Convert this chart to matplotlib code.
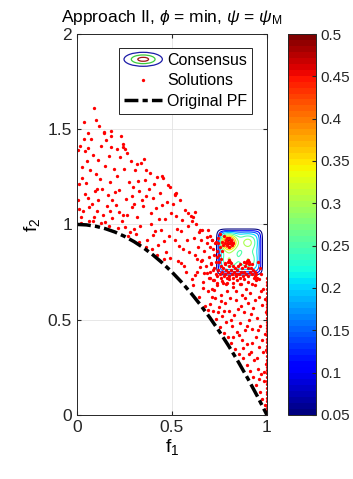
import numpy as np
import matplotlib
matplotlib.use('Agg')
import matplotlib.pyplot as plt
from matplotlib.legend_handler import HandlerBase
from matplotlib.patches import Ellipse, Patch
from matplotlib.lines import Line2D

plt.rcParams['font.family'] = ['Liberation Sans', 'DejaVu Sans']
plt.rcParams['mathtext.fontset'] = 'custom'
plt.rcParams['mathtext.rm'] = 'Liberation Sans'
plt.rcParams['mathtext.it'] = 'Liberation Sans:italic'
plt.rcParams['font.size'] = 10

# original Pareto front
pf_f1 = [0.0, 0.05, 0.1, 0.15, 0.2, 0.25, 0.3, 0.35, 0.4, 0.45, 0.5,
         0.55, 0.6, 0.65, 0.7, 0.75, 0.8, 0.85, 0.9, 0.95, 1.0]
pf_f2 = [1.0, 0.9975, 0.99, 0.9775, 0.96, 0.9375, 0.91, 0.8775, 0.84, 0.7975, 0.75,
         0.6975, 0.64, 0.5775, 0.51, 0.4375, 0.36, 0.2775, 0.19, 0.0975, 0.0]

# solutions spread over the objective space (f1, f2)
upper_pts = [
    (0.091, 1.61), (0.1, 1.55), (0.038, 1.54), (0.06, 1.48), (0.144, 1.48), (0.179, 1.49),
    (0.177, 1.465), (0.016, 1.41), (0.244, 1.42), (0.253, 1.395), (0.314, 1.316), (0.446, 1.255),
    (0.516, 1.155), (0.52, 1.165),
    (0.013, 1.083), (0.027, 1.246), (0.008, 1.392), (0.041, 1.158), (0.019, 1.037), (0.052, 1.331),
    (0.036, 1.447), (0.066, 1.092), (0.048, 1.219), (0.071, 1.284), (0.083, 1.018), (0.057, 1.403),
    (0.094, 1.176), (0.087, 1.362), (0.029, 1.301), (0.011, 1.212), (0.064, 1.017), (0.076, 1.448),
    (0.043, 1.387), (0.098, 1.263), (0.112, 1.129), (0.127, 1.412), (0.109, 1.336), (0.138, 1.047),
    (0.121, 1.241), (0.146, 1.305), (0.133, 1.188), (0.157, 1.097), (0.168, 1.357), (0.151, 1.441),
    (0.173, 1.224), (0.186, 1.032), (0.162, 1.152), (0.194, 1.291), (0.118, 1.518), (0.181, 1.407),
    (0.142, 1.486), (0.107, 1.073), (0.199, 1.171), (0.176, 1.068), (0.213, 1.256), (0.204, 1.104),
    (0.228, 1.352), (0.236, 1.017), (0.219, 1.183), (0.247, 1.289), (0.258, 1.136), (0.241, 1.408),
    (0.266, 1.049), (0.273, 1.224), (0.284, 1.331), (0.291, 1.092), (0.262, 1.377), (0.277, 0.962),
    (0.233, 1.464), (0.296, 1.198), (0.252, 0.989), (0.288, 1.147), (0.209, 1.398), (0.224, 1.063),
    (0.307, 1.287), (0.318, 1.041), (0.326, 1.173), (0.339, 1.322), (0.312, 0.952), (0.347, 1.096),
    (0.358, 1.231), (0.333, 0.993), (0.366, 1.149), (0.371, 0.918), (0.384, 1.268), (0.392, 1.058),
    (0.377, 1.187), (0.353, 1.341), (0.398, 0.944), (0.321, 1.226), (0.342, 1.127), (0.389, 1.003),
    (0.364, 1.287), (0.303, 1.109), (0.406, 1.212), (0.417, 1.087), (0.428, 0.891), (0.436, 1.164),
    (0.443, 0.972), (0.452, 1.246), (0.461, 1.031), (0.474, 1.118), (0.469, 0.853), (0.483, 0.938),
    (0.491, 1.197), (0.497, 1.062), (0.412, 0.963), (0.424, 1.251), (0.447, 1.103), (0.458, 0.912),
    (0.478, 1.208), (0.433, 1.029), (0.488, 0.826), (0.402, 1.139), (0.508, 1.109), (0.514, 0.918),
    (0.523, 1.043), (0.532, 0.806), (0.541, 1.127), (0.549, 0.967), (0.558, 0.872), (0.567, 1.076),
    (0.574, 0.748), (0.583, 0.991), (0.591, 0.853), (0.598, 1.043), (0.517, 1.158), (0.536, 0.884),
    (0.553, 1.021), (0.562, 0.781), (0.578, 0.917), (0.587, 1.059), (0.527, 0.978), (0.546, 0.795),
    (0.004, 1.128), (0.022, 1.009), (0.034, 1.071), (0.059, 1.138), (0.079, 1.109), (0.091, 1.041),
    (0.103, 1.188), (0.124, 1.006), (0.149, 1.014), (0.171, 0.992), (0.187, 1.128), (0.216, 0.981),
    (0.243, 1.052), (0.269, 0.941), (0.299, 0.978), (0.329, 0.907), (0.362, 0.883), (0.394, 0.871),
    (0.421, 0.839), (0.456, 0.818),
]
mid_pts = [
    (0.605, 1.02), (0.61, 0.68), (0.612, 1.041), (0.608, 0.713), (0.615, 0.93), (0.62, 0.84),
    (0.621, 1.067), (0.623, 0.735), (0.627, 1.00), (0.63, 0.75), (0.633, 0.82), (0.635, 0.88),
    (0.641, 0.96), (0.645, 0.62), (0.647, 0.971), (0.648, 0.778), (0.652, 0.81), (0.655, 0.92),
    (0.659, 0.97), (0.661, 0.812), (0.664, 0.70), (0.667, 0.743), (0.665, 0.665), (0.67, 0.86),
    (0.675, 0.57), (0.68, 0.78), (0.683, 0.936), (0.684, 0.744), (0.686, 0.903), (0.69, 0.65),
    (0.69, 0.55), (0.692, 0.97), (0.693, 0.72), (0.695, 0.83), (0.70, 0.88), (0.701, 0.721),
    (0.70, 0.94), (0.704, 0.796), (0.703, 0.752), (0.707, 0.79), (0.709, 0.919), (0.709, 0.62),
    (0.712, 0.92), (0.715, 0.87), (0.716, 0.71), (0.717, 0.761), (0.72, 0.84), (0.722, 0.77),
    (0.724, 0.71), (0.725, 0.90), (0.73, 0.80), (0.731, 0.74), (0.732, 0.91), (0.74, 0.69),
]
right_pts = [
    (0.703, 0.583), (0.716, 0.547), (0.709, 0.662), (0.727, 0.611), (0.734, 0.502), (0.738, 0.684),
    (0.746, 0.568), (0.751, 0.463), (0.757, 0.627), (0.763, 0.521), (0.769, 0.694), (0.773, 0.432),
    (0.781, 0.588), (0.786, 0.487), (0.789, 0.651), (0.796, 0.411), (0.801, 0.543), (0.807, 0.616),
    (0.812, 0.378), (0.818, 0.469), (0.821, 0.672), (0.827, 0.524), (0.833, 0.348), (0.836, 0.601),
    (0.842, 0.437), (0.847, 0.556), (0.853, 0.318), (0.856, 0.688), (0.861, 0.482), (0.867, 0.391),
    (0.871, 0.627), (0.876, 0.296), (0.879, 0.538), (0.884, 0.447), (0.888, 0.663), (0.893, 0.263),
    (0.897, 0.374), (0.901, 0.587), (0.906, 0.498), (0.909, 0.231), (0.913, 0.642), (0.917, 0.329),
    (0.921, 0.452), (0.926, 0.196), (0.928, 0.563), (0.933, 0.287), (0.937, 0.682), (0.941, 0.409),
    (0.944, 0.158), (0.948, 0.511), (0.951, 0.243), (0.956, 0.617), (0.959, 0.357), (0.963, 0.121),
    (0.966, 0.468), (0.969, 0.213), (0.973, 0.576), (0.977, 0.084), (0.979, 0.331), (0.982, 0.659),
    (0.986, 0.177), (0.988, 0.423), (0.991, 0.052), (0.993, 0.541), (0.996, 0.268), (0.997, 0.019),
    (0.722, 0.653), (0.742, 0.538), (0.758, 0.598), (0.776, 0.547), (0.792, 0.693), (0.809, 0.497),
    (0.824, 0.408), (0.839, 0.652), (0.851, 0.421), (0.864, 0.574), (0.873, 0.349), (0.886, 0.612),
    (0.895, 0.468), (0.904, 0.318), (0.916, 0.527), (0.924, 0.376), (0.935, 0.604), (0.946, 0.298),
    (0.954, 0.448), (0.961, 0.187), (0.967, 0.651), (0.975, 0.392), (0.984, 0.227), (0.989, 0.606),
    (0.994, 0.341), (0.762, 0.703), (0.783, 0.687), (0.803, 0.712), (0.822, 0.694), (0.844, 0.706),
    (0.862, 0.689), (0.881, 0.714), (0.899, 0.698), (0.921, 0.687), (0.942, 0.708), (0.958, 0.713),
]
cluster_pts = [
    (0.74, 0.73), (0.745, 0.76), (0.75, 0.80), (0.752, 0.74), (0.758, 0.78), (0.76, 0.72),
    (0.765, 0.75), (0.77, 0.77), (0.772, 0.73), (0.778, 0.79), (0.78, 0.74), (0.785, 0.76),
    (0.79, 0.72), (0.795, 0.75), (0.80, 0.78), (0.802, 0.73), (0.808, 0.80), (0.81, 0.76),
    (0.815, 0.74), (0.82, 0.78), (0.822, 0.72), (0.828, 0.75), (0.83, 0.77), (0.835, 0.74),
    (0.84, 0.73), (0.845, 0.76), (0.85, 0.78), (0.852, 0.74), (0.858, 0.72), (0.86, 0.79),
    (0.865, 0.75), (0.87, 0.77), (0.872, 0.73), (0.878, 0.80), (0.88, 0.75), (0.885, 0.78),
    (0.89, 0.74), (0.895, 0.81), (0.90, 0.77), (0.902, 0.73), (0.908, 0.79), (0.91, 0.75),
    (0.915, 0.77), (0.92, 0.74), (0.925, 0.76), (0.93, 0.72), (0.935, 0.75), (0.94, 0.73),
    (0.945, 0.74), (0.95, 0.72), (0.80, 0.815), (0.90, 0.815), (0.795, 0.80), (0.905, 0.80),
    (0.78, 0.795), (0.81, 0.795), (0.89, 0.795), (0.92, 0.79), (0.97, 0.74), (0.965, 0.77),
    (0.955, 0.80), (0.735, 0.83), (0.74, 0.86), (0.742, 0.90), (0.745, 0.93), (0.75, 0.84),
    (0.752, 0.88), (0.755, 0.95), (0.76, 0.82), (0.762, 0.91), (0.765, 0.86), (0.77, 0.89),
    (0.772, 0.94), (0.78, 0.90), (0.785, 0.92), (0.79, 0.89), (0.795, 0.91), (0.80, 0.93),
    (0.805, 0.90), (0.81, 0.92), (0.815, 0.89), (0.79, 0.93), (0.80, 0.88), (0.81, 0.91),
    (0.82, 0.90),
]
# solutions sitting on the f1 = 1 boundary
edge_f2 = [0.0, 0.02, 0.035, 0.05, 0.07, 0.09, 0.11, 0.12, 0.14, 0.16, 0.18, 0.2, 0.22,
           0.235, 0.25, 0.27, 0.29, 0.31, 0.33, 0.345, 0.36, 0.38, 0.40, 0.42, 0.44, 0.455,
           0.47, 0.49, 0.51, 0.53, 0.55, 0.565, 0.58, 0.60, 0.62, 0.64, 0.66, 0.68, 0.70, 0.72]

# consensus surface: plateau plus four local bumps
plateau_center = (0.856, 0.855)
plateau_half = (0.115, 0.115)
plateau_height = 0.22
bump_f1 = [0.80, 0.90, 0.80, 0.90]
bump_f2 = [0.905, 0.905, 0.815, 0.815]
bump_height = [0.30, 0.10, 0.08, 0.08]
bump_width = 0.028
levels = np.arange(0.05, 0.501, 0.05)

g1, g2 = np.meshgrid(np.linspace(0.65, 1.05, 300), np.linspace(0.65, 1.05, 300))
Z = plateau_height * np.exp(-(((g1 - plateau_center[0]) / plateau_half[0]) ** 8
                              + ((g2 - plateau_center[1]) / plateau_half[1]) ** 8))
for cx, cy, h in zip(bump_f1, bump_f2, bump_height):
    Z += h * np.exp(-((g1 - cx) ** 2 + (g2 - cy) ** 2) / (2 * bump_width ** 2)) * (Z > 0.1)

sol = np.array(upper_pts + mid_pts + right_pts + cluster_pts)
edge = np.column_stack([np.ones(len(edge_f2)), edge_f2])

cmap = plt.get_cmap('jet', 64)
norm = matplotlib.colors.Normalize(vmin=0.05, vmax=0.5)
pf_style = (0, (4, 1.2, 1.5, 1.2))

fig = plt.figure(figsize=(3.53, 4.79), dpi=100)
ax = fig.add_axes([0.218, 0.134, 0.538, 0.795])

cs = ax.contour(g1, g2, Z, levels=levels, cmap=cmap, norm=norm, linewidths=0.8)
ax.plot(sol[:, 0], sol[:, 1], 'o', color='red', ms=2.4, mew=0)
ax.plot(edge[:, 0], edge[:, 1], 'o', color='red', ms=2.4, mew=0)
ax.plot(pf_f1, pf_f2, color='black', lw=2.5, linestyle=pf_style)

ax.set_xlim(0, 1)
ax.set_ylim(0, 2)
ax.set_xticks([0, 0.5, 1])
ax.set_xticklabels(['0', '0.5', '1'])
ax.set_yticks([0, 0.5, 1, 1.5, 2])
ax.set_yticklabels(['0', '0.5', '1', '1.5', '2'])
ax.grid(True, color='#e3e3e3', lw=0.6)
ax.set_axisbelow(True)
ax.tick_params(direction='in', length=3, top=True, right=True, labelsize=12.5, colors='#262626')
for s in ax.spines.values():
    s.set_color('#262626')
    s.set_linewidth(0.7)
ax.set_xlabel(r'f$_1$', fontsize=14, labelpad=2)
ax.set_ylabel(r'f$_2$', fontsize=14, labelpad=4)
ax.set_title(r'Approach II, $\phi$ = min, $\psi$ = $\psi_{\rm M}$', fontsize=12.5, pad=9)


class ContourIcon(HandlerBase):
    def create_artists(self, legend, orig_handle, xdescent, ydescent, width, height,
                       fontsize, trans):
        cx = width / 2 - xdescent
        cy = height / 2 - ydescent
        out = []
        for f, c in [(1.0, '#1c1ca8'), (0.62, '#3ccc3c'), (0.28, '#a01414')]:
            out.append(Ellipse((cx, cy), width * f, height * 1.25 * f, fill=False,
                               edgecolor=c, lw=0.9, transform=trans))
        return out


cons_proxy = Patch()
handles = [cons_proxy,
           Line2D([], [], ls='none', marker='o', color='red', ms=2.4, mew=0),
           Line2D([], [], color='black', lw=2.5, linestyle=pf_style)]
leg = ax.legend(handles, ['Consensus', 'Solutions', 'Original PF'],
                handler_map={cons_proxy: ContourIcon()},
                loc='upper right', bbox_to_anchor=(0.922, 0.963), borderaxespad=0,
                fontsize=11.5, handlelength=2.4, handletextpad=0.3, labelspacing=0.35,
                borderpad=0.3, fancybox=False, framealpha=1)
leg.get_frame().set_edgecolor('#262626')
leg.get_frame().set_linewidth(0.7)

cax = fig.add_axes([0.816, 0.134, 0.079, 0.795])
cb = fig.colorbar(matplotlib.cm.ScalarMappable(norm=norm, cmap=cmap), cax=cax)
cb.set_ticks(levels)
cb.set_ticklabels(['%g' % v for v in np.round(levels, 2)])
cb.ax.tick_params(direction='in', length=3, pad=3, labelsize=11, colors='#262626')
cb.outline.set_edgecolor('#262626')
cb.outline.set_linewidth(0.7)

fig.savefig('out.png', dpi=100)
